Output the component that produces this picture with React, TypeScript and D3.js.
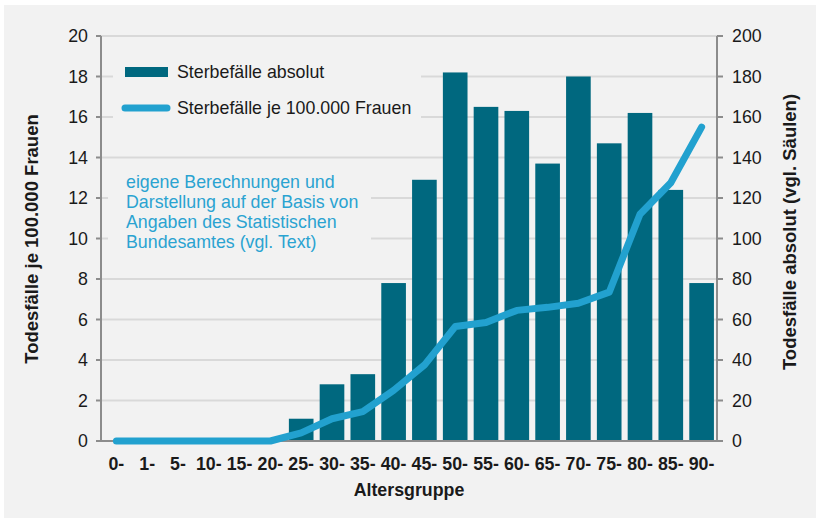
import React from "react";
import * as d3 from "d3";

const categories = ["0-", "1-", "5-", "10-", "15-", "20-", "25-", "30-", "35-", "40-", "45-", "50-", "55-", "60-", "65-", "70-", "75-", "80-", "85-", "90-"];
const absoluteDeaths = [0, 0, 0, 0, 0, 0, 11, 28, 33, 78, 129, 182, 165, 163, 137, 180, 147, 162, 124, 78];
const ratePer100k = [0, 0, 0, 0, 0, 0, 0.4, 1.1, 1.45, 2.5, 3.75, 5.65, 5.85, 6.45, 6.6, 6.8, 7.35, 11.2, 12.75, 15.5];
const leftTicks = [0, 2, 4, 6, 8, 10, 12, 14, 16, 18, 20];
const rightTicks = [0, 20, 40, 60, 80, 100, 120, 140, 160, 180, 200];
const legendLabels = ["Sterbefälle absolut", "Sterbefälle je 100.000 Frauen"];
const noteLines = ["eigene Berechnungen und", "Darstellung auf der Basis von", "Angaben des Statistischen", "Bundesamtes (vgl. Text)"];
const leftTitle = "Todesfälle je 100.000 Frauen";
const rightTitle = "Todesfälle absolut (vgl. Säulen)";
const xTitle = "Altersgruppe";

const W = 816, H = 518;
const plot = { left: 101, right: 717, top: 36, bottom: 441 };
const BAR = "#00687f";
const LINE = "#22a1cf";
const NOTE = "#2aa3d1";
const GRID = "#d9d9d9";
const AXIS = "#8c8c8c";
const TEXT = "#1a1a1a";
const FONT = "'Liberation Sans', Arial, sans-serif";
const FS = 17.8;

export default function App() {
  const x = d3.scaleBand<string>().domain(categories).range([plot.left, plot.right]).paddingInner(0.2).paddingOuter(0.1);
  const yL = d3.scaleLinear().domain([0, 20]).range([plot.bottom, plot.top]);
  const yR = d3.scaleLinear().domain([0, 200]).range([plot.bottom, plot.top]);
  const cx = (c: string) => (x(c) as number) + x.bandwidth() / 2;
  const line = d3.line<number>().x((_, i) => cx(categories[i])).y((d) => yL(d));

  return (
    <svg width={W} height={H} style={{ position: "absolute", left: 0, top: 0, display: "block" }} fontFamily={FONT}>
      <rect x={0} y={0} width={W} height={H} fill="#ffffff" />
      <rect x={4} y={5} width={W - 4} height={H - 5} fill="#f2f2f2" />
      {/* gridlines */}
      {leftTicks.filter((t) => t > 0).map((t) => (
        <line key={"g" + t} x1={plot.left} x2={plot.right} y1={yL(t)} y2={yL(t)} stroke={GRID} strokeWidth={2} />
      ))}
      {/* legend & note backgrounds covering gridlines */}
      <rect x={113} y={55} width={308} height={75} fill="#f2f2f2" />
      <rect x={108} y={168} width={263} height={88} fill="#f2f2f2" />
      {/* bars */}
      {absoluteDeaths.map((v, i) => v > 0 ? (
        <rect key={"b" + i} x={x(categories[i])} y={yR(v)} width={x.bandwidth()} height={plot.bottom - yR(v)} fill={BAR} />
      ) : null)}
      {/* axes */}
      <line x1={plot.left} x2={plot.left} y1={plot.top} y2={plot.bottom} stroke={AXIS} strokeWidth={2} />
      <line x1={plot.right} x2={plot.right} y1={plot.top} y2={plot.bottom} stroke={AXIS} strokeWidth={2} />
      <line x1={plot.left - 5} x2={plot.right + 6} y1={plot.bottom} y2={plot.bottom} stroke={AXIS} strokeWidth={2} />
      {leftTicks.map((t) => (
        <g key={"l" + t}>
          <line x1={plot.left - 5} x2={plot.left} y1={yL(t)} y2={yL(t)} stroke={AXIS} strokeWidth={2} />
          <text x={88} y={yL(t)} dy="0.35em" textAnchor="end" fontSize={FS} fill={TEXT}>{t}</text>
        </g>
      ))}
      {rightTicks.map((t) => (
        <g key={"r" + t}>
          <line x1={plot.right} x2={plot.right + 6} y1={yR(t)} y2={yR(t)} stroke={AXIS} strokeWidth={2} />
          <text x={732} y={yR(t)} dy="0.35em" textAnchor="start" fontSize={FS} fill={TEXT}>{t}</text>
        </g>
      ))}
      {/* line */}
      <path d={line(ratePer100k) || ""} fill="none" stroke={LINE} strokeWidth={7} strokeLinejoin="round" strokeLinecap="round" />
      {/* x labels */}
      {categories.map((c) => (
        <text key={"x" + c} x={cx(c)} y={469.5} textAnchor="middle" fontSize={FS} fontWeight="bold" fill={TEXT}>{c}</text>
      ))}
      <text x={409} y={496} textAnchor="middle" fontSize={FS} fontWeight="bold" fill={TEXT}>{xTitle}</text>
      <text transform="translate(38,239) rotate(-90)" textAnchor="middle" fontSize={18.5} fontWeight="bold" fill={TEXT}>{leftTitle}</text>
      <text transform="translate(796,232) rotate(-90)" textAnchor="middle" fontSize={18.5} fontWeight="bold" fill={TEXT}>{rightTitle}</text>
      {/* legend */}
      <rect x={125} y={67} width={43} height={10} fill={BAR} />
      <line x1={125} x2={167} y1={108} y2={108} stroke={LINE} strokeWidth={7} strokeLinecap="round" />
      <text x={177} y={72} dy="0.35em" fontSize={FS} fill={TEXT}>{legendLabels[0]}</text>
      <text x={177} y={108} dy="0.35em" fontSize={FS} fill={TEXT}>{legendLabels[1]}</text>
      {/* note */}
      {noteLines.map((l, i) => (
        <text key={"n" + i} x={126} y={182 + i * 20} dy="0.35em" fontSize={FS} fill={NOTE}>{l}</text>
      ))}
    </svg>
  );
}
